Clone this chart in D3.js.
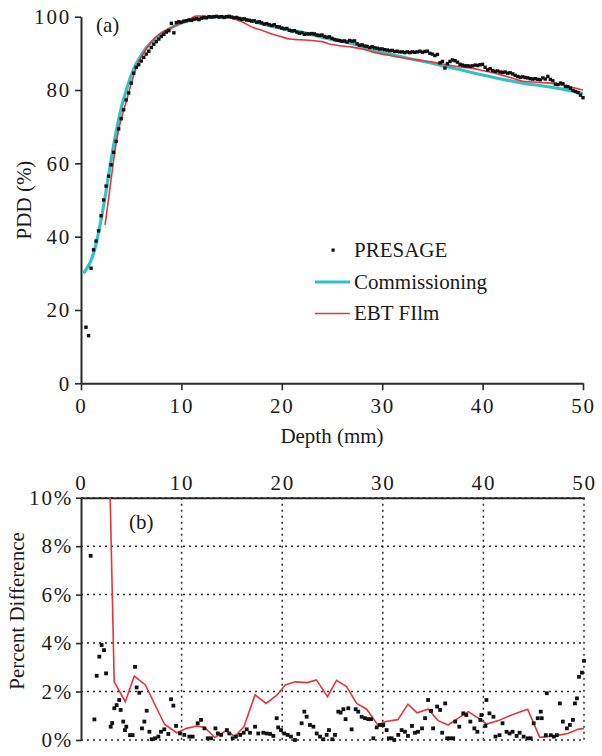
<!DOCTYPE html>
<html><head><meta charset="utf-8">
<script src="https://cdn.jsdelivr.net/npm/d3@7"></script>
<style>
html,body{margin:0;padding:0;background:#fff;}
svg text{font-family:'Liberation Serif','DejaVu Serif','Noto Serif','Times New Roman',serif;fill:#1a1a1a;}
</style></head>
<body><svg id="c" width="602" height="756" font-family="'Liberation Serif', 'DejaVu Serif', serif"></svg>
<script>
// ---------- DATA ----------
// (a) PDD curves
const presageStart = 0.5, presageStep = 0.25;
const presagePDD = [
 15.3,13.0,
 31.4,36.4,38.8,41.6,
 45.7,50.0,53.8,56.5,
 59.6,63.0,66.0,69.4,
 72.2,74.6,77.3,79.2,
 81.9,84.6,86.2,86.9,
 87.9,88.9,89.8,90.6,
 91.6,92.5,93.2,93.9,
 94.6,95.2,95.8,96.2,
 98.2,95.6,98.4,98.6,
 98.5,98.8,98.9,99.1,
 99.0,99.3,99.5,99.2,
 99.6,99.8,99.7,100.0,
 99.9,100.0,100.1,99.9,
 100.0,99.8,100.0,100.1,
 99.9,99.7,99.8,99.5,
 99.3,99.4,99.1,99.0,
 98.8,98.9,98.5,98.6,
 98.3,98.0,98.1,97.8,
 97.6,97.8,97.3,97.2,
 96.9,96.7,96.8,96.3,
 96.1,96.2,95.8,95.5,
 95.6,95.2,95.3,95.3,
 95.4,95.3,95.0,94.9,
 95.0,94.6,94.4,94.5,
 94.1,93.8,93.6,93.5,
 93.3,93.4,93.1,93.5,
 93.3,93.4,92.6,92.2,
 92.3,92.0,91.9,91.6,
 91.8,91.5,91.4,91.2,
 91.2,91.0,90.9,90.7,
 90.8,90.5,90.6,90.4,
 90.4,90.2,90.4,90.2,
 90.4,90.3,90.4,90.6,
 90.3,90.5,90.6,90.0,
 89.8,89.4,89.7,87.4,
 87.8,86.0,87.2,87.8,
 88.2,88.0,87.6,87.0,
 86.8,86.6,86.6,86.5,
 86.6,86.8,86.7,86.9,
 87.0,86.2,85.5,85.8,
 85.3,85.1,85.2,84.9,
 84.8,84.9,84.6,84.7,
 84.4,84.0,83.7,83.5,
 83.6,83.4,83.3,83.1,
 83.0,83.1,82.9,82.8,
 83.3,83.0,83.7,82.9,
 82.5,81.6,81.5,81.9,
 81.7,81.0,80.9,80.5,
 79.9,79.6,79.3,78.6,
 77.9
];
const commissioning = [
 [0.25,30.0],[0.5,31.0],[1.0,33.5],[1.25,35.5],[1.5,38.0],[2.0,44.6],[2.5,52.5],[3.0,61.0],
 [3.5,68.5],[4.0,75.0],[4.5,79.8],[5.0,84.0],[5.5,87.2],[6.0,89.5],[6.5,91.5],[7,93.0],
 [8,95.3],[9,97.0],[10,98.3],[11,99.1],[12,99.6],[13,99.9],[14,100.0],[15,99.9],[16,99.5],
 [17,98.9],[18,98.1],[19,97.4],[20,96.8],[21,96.2],[22,95.8],[23,95.1],[24,94.4],[25,93.8],
 [26,93.3],[27,92.7],[28,91.8],[29,91.0],[30,90.2],[31,89.6],[32,89.0],[33,88.4],[34,87.9],
 [35,87.3],[36,86.6],[37,86.0],[38,85.4],[39,84.7],[40,84.1],[41,83.5],[42,82.9],[43,82.4],
 [44,81.9],[45,81.5],[46,81.1],[47,80.7],[48,80.2],[49,79.7],[50,79.1]
];
const ebtFilm = [
 [2.4,43.2],[2.9,53.6],[3.55,66.4],[4.55,77.3],[5.55,86.4],[6.9,92.8],[9.2,97.3],[10,98.3],
 [11,99.6],[11.5,100.2],[12.3,100.2],[13,99.8],[14,99.9],[15,99.6],[16,98.6],[17.2,97.0],
 [18,96.3],[19,95.3],[20,94.5],[20.8,93.9],[21.8,93.7],[23,93.5],[24,93.2],[25,92.4],
 [26,92.0],[27,91.7],[28,91.2],[29,90.4],[30,89.8],[31,89.3],[32,88.8],[33,88.4],[34,88.0],
 [35,87.6],[36,87.1],[37,86.6],[38,86.2],[39,85.9],[40,85.3],[41,84.7],[42,84.0],[43,83.2],
 [44,82.4],[45,82.2],[46,82.0],[47,81.8],[48,81.3],[49,80.7],[50,80.0]
];
// (b) percent difference
const presageDiff = [
 [0.96,7.6],[1.33,0.85],[1.56,2.65],[1.82,3.44],[2.05,3.92],[2.29,3.71],[2.49,2.75],[2.95,0.55],
 [3.1,0.7],[3.31,1.31],[3.54,1.44],[3.8,1.65],[3.94,1.24],[4.2,0.76],[4.37,0.41],[4.5,0.55],
 [4.87,0.2],[5.13,0.2],[5.37,3.02],[5.53,2.17],[5.8,1.95],[6.06,0.48],[6.3,0.76],[6.53,1.21],
 [6.8,0.34],[7.03,0.03],[7.36,0.07],[7.69,0.14],[7.95,0.34],[8.28,0.44],[8.68,0.25],[8.95,1.68],
 [9.18,1.42],[9.45,0.58],[9.84,0.27],[10.27,0.21],[10.77,0.14],[11.1,0.14],[11.6,0.69],[11.93,0.83],
 [12.27,0.48],[12.6,0.07],[12.93,0.07],[13.36,0.48],[13.6,0.27],[13.93,0.21],[14.5,0.41],[14.74,0.27],
 [15.08,0.07],[15.4,0.14],[15.83,0.21],[16.17,0.3],[16.47,0.44],[16.8,0.3],[17.3,0.55],[17.62,0.27],
 [18.12,0.3],[18.45,0.27],[18.79,0.25],[19.12,0.17],[19.45,0.9],[19.6,0.52],[19.88,0.41],[20.2,0.27],
 [20.54,0.21],[20.87,0.14],[21.27,0.0],[21.6,0.25],[21.93,0.69],[22.2,1.17],[22.43,0.96],[22.76,0.62],
 [23.1,0.55],[23.43,0.27],[23.76,0.14],[24.09,0.03],[24.42,0.21],[24.65,0.41],[24.98,0.03],[25.25,0.21],
 [25.58,1.17],[25.81,1.13],[26.08,1.27],[26.3,0.86],[26.57,1.31],[26.9,0.44],[27.3,1.27],[27.56,1.17],
 [27.9,0.96],[28.23,0.9],[28.56,0.86],[28.83,0.86],[29.06,0.07],[29.39,0.52],[29.72,0.62],[30.05,0.62],
 [30.38,0.41],[30.61,0.07],[30.88,0.07],[31.14,0.0],[31.54,0.21],[31.87,0.41],[32.2,0.34],[32.5,0.17],
 [32.9,0.58],[33.2,0.3],[33.5,0.34],[33.9,0.48],[34.2,0.9],[34.5,1.65],[34.8,1.2],[35.0,0.48],
 [35.4,1.38],[35.7,1.24],[35.9,0.3],[36.2,1.51],[36.4,0.07],[36.7,0.07],[37.0,0.07],[37.2,0.76],
 [37.6,0.55],[38.0,1.1],[38.3,1.03],[38.7,0.76],[39.1,0.48],[39.4,0.34],[39.7,0.83],[39.8,1.03],
 [40.2,0.58],[40.3,1.65],[40.6,1.1],[41.0,0.96],[41.2,0.14],[41.6,0.2],[41.9,0.69],[42.3,0.34],
 [42.6,0.27],[42.9,0.34],[43.3,0.17],[43.6,0.3],[44.0,0.14],[44.4,0.07],[44.7,0.07],[45.0,0.69],
 [45.4,0.9],[45.7,1.17],[45.8,0.9],[46.2,0.2],[46.3,1.93],[46.7,0.2],[47.0,0.14],[47.3,0.2],
 [47.6,1.51],[47.9,0.76],[48.3,0.48],[48.6,0.62],[48.9,0.83],[49.1,1.51],[49.3,1.72],[49.5,2.61],
 [49.8,2.78],[50.0,3.27]
];
const ebtDiff = [
 [2.9,10.0],[3.3,2.4],[4.4,1.58],[5.3,2.64],[6.4,2.27],[8.3,0.65],[9.5,0.3],[10.5,0.48],
 [11.5,0.58],[12.3,0.52],[13.3,0.1],[14.4,0.38],[15.3,0.15],[16.2,0.55],[17.3,1.86],[18.4,1.51],
 [19.5,1.86],[20.3,2.27],[21.3,2.4],[22.5,2.37],[23.4,2.48],[24.5,1.79],[25.4,2.46],[26.4,2.2],
 [27.4,1.51],[28.4,1.27],[29.5,0.62],[30.3,0.76],[31.5,0.84],[32.5,1.48],[33.4,1.12],[34.5,1.27],
 [35.5,0.8],[36.5,0.62],[37.5,0.9],[38.5,1.17],[39.5,0.9],[40.3,0.66],[41.5,0.8],[42.8,1.03],
 [44.4,1.27],[45.6,0.11],[47.1,0.17],[48.4,0.27],[49.4,0.44],[50,0.48]
];
const depthTicks = [0,10,20,30,40,50];
const pddTicks = [0,20,40,60,80,100];
const diffTicks = [0,2,4,6,8,10];
const legendLabels = ["PRESAGE","Commissioning","EBT FIlm"];
const COL_CYAN = "#2fc3c6", COL_RED = "#e8343b", COL_DOT = "#111", AX = "#2a2a2a";
const FONT = "'Liberation Serif', 'DejaVu Serif', serif";

// ---------- CHART ----------
const svg = d3.select("#c");
const xA = d3.scaleLinear().domain([0,50]).range([81,583]);
const yA = d3.scaleLinear().domain([0,100]).range([383.3,16.7]);
const xB = d3.scaleLinear().domain([0,50]).range([81,584]);
const yB = d3.scaleLinear().domain([0,10]).range([740,497.7]);

function styleAxis(g){
  g.attr("font-family",FONT);
  g.selectAll(".domain").attr("stroke",AX).attr("stroke-width",2);
  g.selectAll(".tick line").attr("stroke",AX).attr("stroke-width",1.6);
  g.selectAll(".tick text").attr("font-size",21).attr("letter-spacing","1.8px")
   .style("font-family",FONT).attr("fill","#1a1a1a");
}

// ---- (a) ----
const gA = svg.append("g");
gA.append("g").attr("transform","translate(81,0)")
  .call(d3.axisLeft(yA).tickValues(pddTicks).tickSize(6).tickSizeOuter(0).tickPadding(4))
  .call(styleAxis);
gA.append("g").attr("transform","translate(0,383.3)")
  .call(d3.axisBottom(xA).tickValues(depthTicks).tickSize(7).tickSizeOuter(0).tickPadding(8))
  .call(styleAxis);

gA.append("path").datum(commissioning)
  .attr("d",d3.line().x(d=>xA(d[0])).y(d=>yA(d[1])).curve(d3.curveMonotoneX))
  .attr("fill","none").attr("stroke",COL_CYAN).attr("stroke-width",3.2);
gA.append("path").datum(ebtFilm)
  .attr("d",d3.line().x(d=>xA(d[0])).y(d=>yA(d[1])).curve(d3.curveMonotoneX))
  .attr("fill","none").attr("stroke",COL_RED).attr("stroke-width",1.6);
const presagePts = presagePDD.map((v,i)=>[presageStart+i*presageStep, v]);
gA.append("g").selectAll("rect").data(presagePts).join("rect")
  .attr("x",d=>xA(d[0])-1.7).attr("y",d=>yA(d[1])-1.7).attr("width",3.4).attr("height",3.4)
  .attr("fill",COL_DOT);

function label(g,x,y,t,anchor,rot){
  const el = g.append("text").attr("font-size",21).style("font-family",FONT).attr("fill","#1a1a1a").text(t);
  if(rot){ el.attr("transform",`translate(${x},${y}) rotate(-90)`); }
  else { el.attr("x",x).attr("y",y); }
  if(anchor) el.attr("text-anchor",anchor);
  return el;
}
label(gA,96,32,"(a)");
label(gA,332,443,"Depth (mm)","middle");
label(gA,31,200,"PDD (%)","middle",true);

// legend
const leg = gA.append("g");
const legY = [257,288.5,320];
leg.append("rect").attr("x",331.5).attr("y",248.5).attr("width",3.2).attr("height",3.2).attr("fill",COL_DOT);
leg.append("line").attr("x1",315).attr("x2",350).attr("y1",282).attr("y2",282).attr("stroke",COL_CYAN).attr("stroke-width",3.2);
leg.append("line").attr("x1",315).attr("x2",350).attr("y1",313.5).attr("y2",313.5).attr("stroke",COL_RED).attr("stroke-width",1.6);
legendLabels.forEach((t,i)=>label(leg,354,legY[i],t));

// ---- (b) ----
const gB = svg.append("g");
gB.append("g").selectAll("line").data(diffTicks).join("line")
  .attr("x1",xB(0)).attr("x2",xB(50)).attr("y1",d=>yB(d)).attr("y2",d=>yB(d))
  .attr("stroke",AX).attr("stroke-width",1.5).attr("stroke-dasharray","2,4");
gB.append("g").selectAll("line").data(depthTicks.slice(1)).join("line")
  .attr("x1",d=>xB(d)).attr("x2",d=>xB(d)).attr("y1",yB(10)).attr("y2",yB(0))
  .attr("stroke",AX).attr("stroke-width",1.5).attr("stroke-dasharray","2,4");

gB.append("g").attr("transform","translate(81,0)")
  .call(d3.axisLeft(yB).tickValues(diffTicks).tickFormat(d=>d+"%").tickSize(5).tickSizeOuter(0).tickPadding(3))
  .call(styleAxis);
gB.append("g").attr("transform","translate(0,497.7)")
  .call(d3.axisTop(xB).tickValues(depthTicks).tickSize(0).tickSizeOuter(0).tickPadding(8))
  .call(styleAxis);

svg.append("clipPath").attr("id","clipB").append("rect")
  .attr("x",xB(0)).attr("y",yB(10)).attr("width",xB(50)-xB(0)+4).attr("height",yB(0)-yB(10)+4);
gB.append("path").datum(ebtDiff).attr("clip-path","url(#clipB)")
  .attr("d",d3.line().x(d=>xB(d[0])).y(d=>yB(d[1])))
  .attr("fill","none").attr("stroke",COL_RED).attr("stroke-width",1.6);
gB.append("g").selectAll("rect").data(presageDiff).join("rect")
  .attr("x",d=>xB(d[0])-1.9).attr("y",d=>yB(d[1])-1.9).attr("width",3.8).attr("height",3.8)
  .attr("fill",COL_DOT);

label(gB,129,529,"(b)");
label(gB,24,611,"Percent Difference","middle",true);
</script></body></html>
